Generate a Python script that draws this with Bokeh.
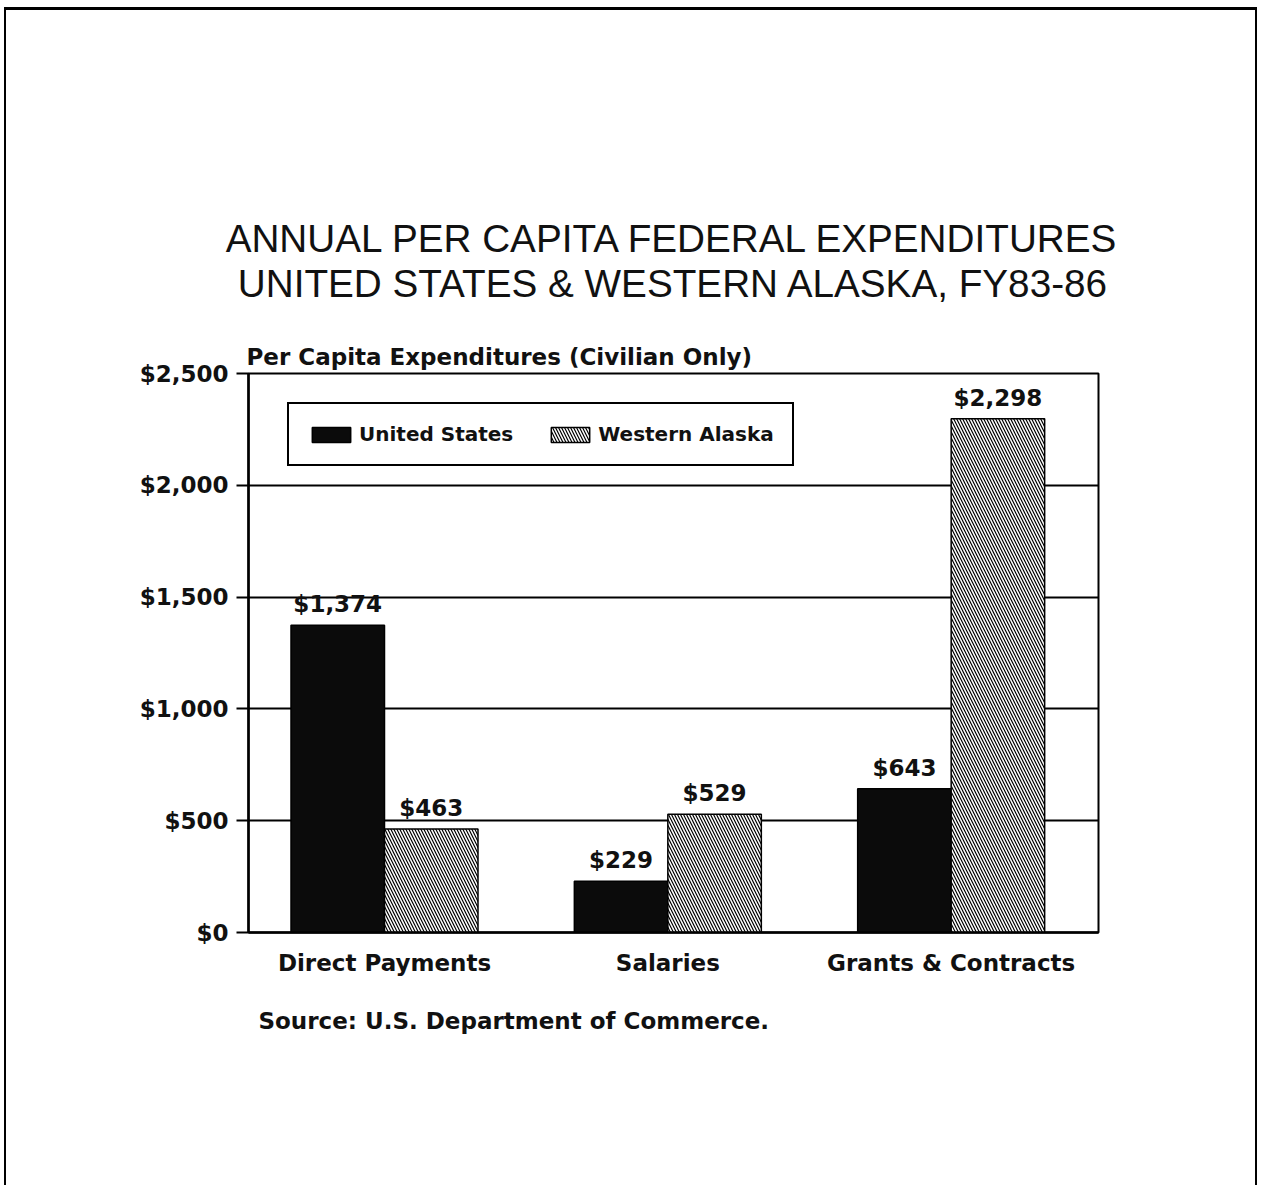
from bokeh.plotting import figure
from bokeh.models import (Range1d, ColumnDataSource, Title, Legend,
                          LegendItem, NumeralTickFormatter, FixedTicker)
from bokeh.transform import dodge
from bokeh.core.properties import value
from bokeh.embed import file_html
from bokeh.resources import INLINE

# ---- data ----
categories = ["Direct Payments", "Salaries", "Grants & Contracts"]
united_states = [1374, 229, 643]
western_alaska = [463, 529, 2298]
series_names = ["United States", "Western Alaska"]
y_ticks = [0, 500, 1000, 1500, 2000, 2500]
title_lines = ["ANNUAL PER CAPITA FEDERAL EXPENDITURES",
               "UNITED STATES & WESTERN ALASKA, FY83-86"]
y_label = "Per Capita Expenditures (Civilian Only)"
source_note = "Source: U.S. Department of Commerce."

cat_index = list(range(len(categories)))
src = ColumnDataSource(dict(
    idx=cat_index,
    us=united_states,
    wa=western_alaska,
    us_lbl=["${:,}".format(v) for v in united_states],
    wa_lbl=["${:,}".format(v) for v in western_alaska],
))

BOLD = "DejaVu Sans"
INK = "#111111"

p = figure(width=1253, height=1178,
           x_range=Range1d(-0.48, len(categories) - 0.48), y_range=Range1d(0, 2500),
           output_backend="svg", toolbar_location=None,
           min_border_left=242, min_border_right=161,
           min_border_top=363, min_border_bottom=256)
p.styles = {"margin-left": "4px", "margin-top": "7px",
            "border-top": "3px solid black",
            "border-left": "2px solid black",
            "border-right": "2px solid black"}

W = 0.33
us_r = p.vbar(x=dodge("idx", -W / 2), top="us", width=W,
              source=src, fill_color="#0b0b0b", line_color="black", line_width=1.5)
wa_r = p.vbar(x=dodge("idx", W / 2), top="wa", width=W,
              source=src, fill_color="white", line_color="black", line_width=1.5,
              hatch_pattern="left_diagonal_line", hatch_color="black",
              hatch_scale=6, hatch_weight=1.2)

for col, ycol, d in (("us_lbl", "us", -W / 2), ("wa_lbl", "wa", W / 2)):
    p.text(x=dodge("idx", d), y=ycol, text=col, source=src,
           text_font=value(BOLD), text_font_style="bold", text_font_size="23px",
           text_color=INK, text_align="center", text_baseline="bottom",
           y_offset=-8)

# axes
p.yaxis.ticker = FixedTicker(ticks=y_ticks)
p.yaxis.formatter = NumeralTickFormatter(format="$0,0")
p.yaxis.major_label_text_font = BOLD
p.yaxis.major_label_text_font_style = "bold"
p.yaxis.major_label_text_font_size = "23px"
p.yaxis.major_label_text_color = INK
p.yaxis.major_tick_out = 12
p.yaxis.major_tick_in = 0
p.yaxis.major_tick_line_width = 2
p.yaxis.major_tick_line_color = "black"
p.yaxis.minor_tick_line_color = None
p.yaxis.axis_line_width = 2.5
p.yaxis.axis_line_color = "black"
p.yaxis.major_label_standoff = 8

p.xaxis.ticker = FixedTicker(ticks=cat_index)
p.xaxis.major_label_overrides = {i: c for i, c in zip(cat_index, categories)}
p.xaxis.major_tick_line_color = None
p.xaxis.minor_tick_line_color = None
p.xaxis.axis_line_width = 2.5
p.xaxis.axis_line_color = "black"
p.xaxis.major_label_text_font = BOLD
p.xaxis.major_label_text_font_style = "bold"
p.xaxis.major_label_text_font_size = "23px"
p.xaxis.major_label_text_color = INK
p.xaxis.major_label_standoff = 11

p.xgrid.grid_line_color = None
p.ygrid.grid_line_color = "black"
p.ygrid.grid_line_width = 1.8
p.ygrid.grid_line_alpha = 1.0
p.outline_line_color = "black"
p.outline_line_width = 2
p.outline_line_alpha = 1.0
p.background_fill_color = "white"
p.border_fill_color = "white"

legend = Legend(items=[LegendItem(label=series_names[0], renderers=[us_r]),
                       LegendItem(label=series_names[1], renderers=[wa_r])],
                orientation="horizontal", location=(39, 466),
                label_text_font=BOLD, label_text_font_style="bold",
                label_text_font_size="20px", label_text_color=INK,
                glyph_width=48, glyph_height=19, padding=18, spacing=33,
                label_standoff=4, border_line_color="black", border_line_width=2,
                border_line_alpha=1.0,
                background_fill_color="white", background_fill_alpha=1.0, margin=0)
p.add_layout(legend)

# texts outside the frame, as stacked titles (first added = nearest the frame)
p.add_layout(Title(text=y_label, align="left", offset=-2, standoff=8,
                   text_font=BOLD, text_font_style="bold", text_font_size="23px",
                   text_color=INK), "above")
p.add_layout(Title(text=" ", standoff=30, text_font_size="1px"), "above")  # spacer
p.add_layout(Title(text=title_lines[1], align="center", standoff=0, offset=4,
                   text_font="Liberation Sans", text_font_style="normal",
                   text_font_size="38.7px", text_color=INK), "above")
p.add_layout(Title(text=title_lines[0], align="center", standoff=0, offset=4,
                   text_font="Liberation Sans", text_font_style="normal",
                   text_font_size="38.7px", text_color=INK), "above")
p.add_layout(Title(text=source_note, align="left", offset=10, standoff=55,
                   text_font=BOLD, text_font_style="bold", text_font_size="23px",
                   text_color=INK), "below")

open("out.html", "w").write(file_html(p, INLINE))
